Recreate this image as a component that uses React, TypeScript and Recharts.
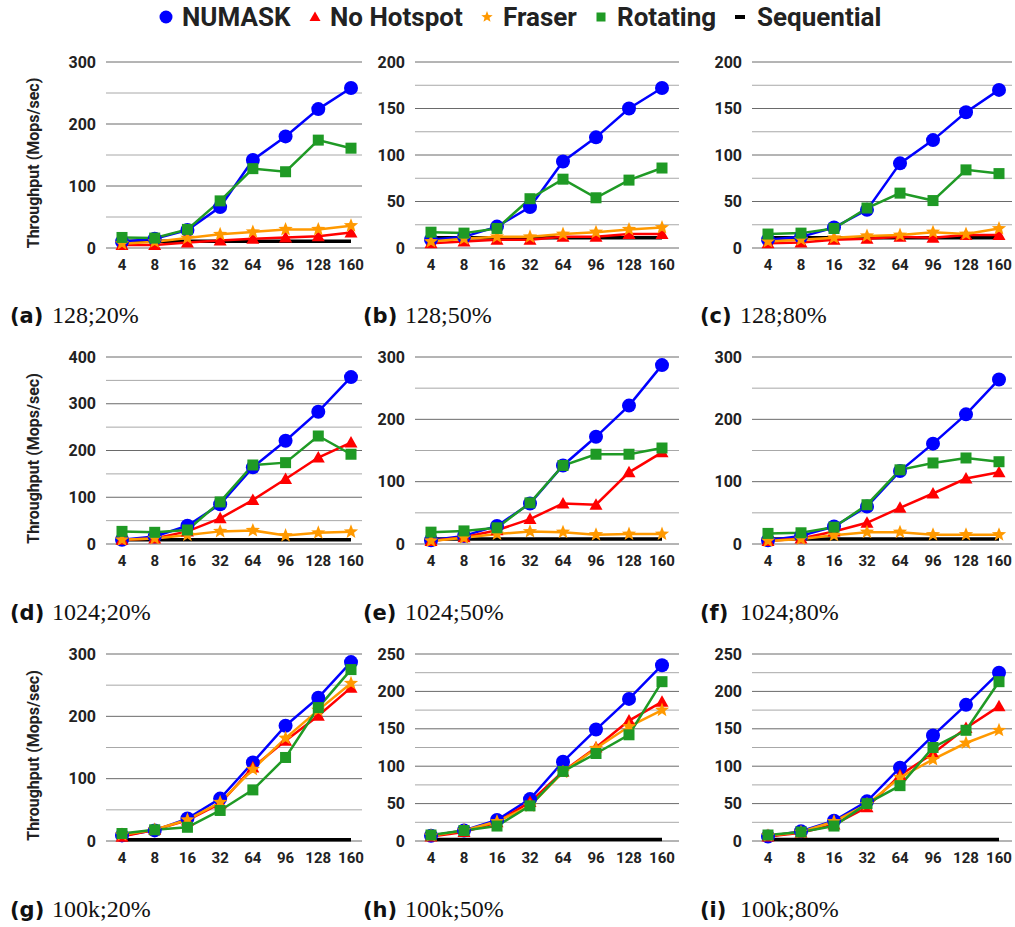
import { CartesianGrid, Line, LineChart, XAxis, YAxis } from "recharts";

const THREADS = ["4", "8", "16", "32", "64", "96", "128", "160"];

// (a) 128;20%
const NUMASK_A = [10, 15, 29, 66, 142, 180, 224, 258];
const NOHOT_A = [5, 5, 9, 12, 15, 17, 19, 25];
const FRASER_A = [7, 10, 16, 22, 26, 30, 30, 36];
const ROT_A = [17, 16, 30, 76, 128, 123, 174, 161];
const SEQ_A = [11, 11, 11, 11, 11, 11, 11, 11];

// (b) 128;50%
const NUMASK_B = [9, 12, 23, 44, 93, 119, 150, 172];
const NOHOT_B = [5, 7, 9, 9, 12, 12, 15, 15];
const FRASER_B = [7, 10, 12, 12, 15, 17, 20, 22];
const ROT_B = [17, 16, 21, 53, 74, 54, 73, 86];
const SEQ_B = [11, 11, 11, 11, 11, 11, 11, 11];

// (c) 128;80%
const NUMASK_C = [9, 12, 22, 41, 91, 116, 146, 170];
const NOHOT_C = [5, 6, 9, 10, 12, 11, 14, 14];
const FRASER_C = [7, 9, 11, 13, 14, 17, 15, 21];
const ROT_C = [15, 16, 21, 43, 59, 51, 84, 80];
const SEQ_C = [11, 11, 11, 11, 11, 11, 11, 11];

// (d) 1024;20%
const NUMASK_D = [9, 16, 39, 85, 164, 221, 283, 357];
const NOHOT_D = [9, 12, 27, 55, 94, 139, 185, 217];
const FRASER_D = [9, 12, 19, 27, 29, 18, 24, 26];
const ROT_D = [27, 25, 30, 90, 169, 174, 231, 192];
const SEQ_D = [9, 9, 9, 9, 9, 9, 9, 9];

// (e) 1024;50%
const NUMASK_E = [6, 13, 29, 65, 126, 172, 222, 287];
const NOHOT_E = [5, 11, 22, 40, 65, 63, 115, 147];
const FRASER_E = [5, 10, 16, 20, 19, 15, 16, 16];
const ROT_E = [19, 21, 26, 66, 126, 144, 144, 154];
const SEQ_E = [8, 8, 8, 8, 8, 8, 8, 8];

// (f) 1024;80%
const NUMASK_F = [6, 13, 28, 60, 117, 161, 208, 264];
const NOHOT_F = [5, 9, 20, 34, 58, 81, 105, 115];
const FRASER_F = [5, 8, 14, 19, 19, 15, 15, 15];
const ROT_F = [17, 18, 27, 63, 119, 130, 138, 132];
const SEQ_F = [8, 8, 8, 8, 8, 8, 8, 8];

// (g) 100k;20%
const NUMASK_G = [9, 17, 36, 68, 126, 185, 230, 287];
const NOHOT_G = [7, 18, 33, 60, 118, 161, 201, 246];
const FRASER_G = [10, 18, 34, 62, 115, 165, 210, 253];
const ROT_G = [12, 18, 22, 49, 82, 134, 214, 275];
const SEQ_G = [2, 2, 2, 2, 2, 2, 2, 2];

// (h) 100k;50%
const NUMASK_H = [7, 14, 28, 56, 106, 149, 190, 235];
const NOHOT_H = [6, 12, 25, 52, 93, 125, 161, 186];
const FRASER_H = [7, 14, 26, 47, 92, 124, 153, 175];
const ROT_H = [8, 14, 20, 47, 93, 117, 142, 213];
const SEQ_H = [2, 2, 2, 2, 2, 2, 2, 2];

// (i) 100k;80%
const NUMASK_I = [6, 13, 27, 53, 98, 141, 182, 225];
const NOHOT_I = [6, 11, 22, 45, 88, 117, 151, 180];
const FRASER_I = [7, 12, 26, 49, 85, 109, 131, 148];
const ROT_I = [8, 12, 20, 50, 74, 125, 148, 213];
const SEQ_I = [2, 2, 2, 2, 2, 2, 2, 2];

const TICKS_200 = [0, 25, 50, 75, 100, 125, 150, 175, 200];
const TICKS_250 = [0, 25, 50, 75, 100, 125, 150, 175, 200, 225, 250];
const TICKS_300 = [0, 50, 100, 150, 200, 250, 300];
const TICKS_400 = [0, 50, 100, 150, 200, 250, 300, 350, 400];

const BLUE = "#0000ff";
const RED = "#ff0000";
const ORANGE = "#ff9900";
const GREEN = "#1f9a25";
const FONT = "Roboto, Arial, sans-serif";

// plot right edge = left + width - right margin
const COLS = [
  { left: 0, width: 370, right: 8, yWidth: 106, pad: { left: 16, right: 11 }, capX: 10, numDx: 42 },
  { left: 362, width: 317, right: 0, yWidth: 53, pad: { left: 16, right: 17 }, capX: 363, numDx: 42 },
  { left: 679, width: 333, right: 0, yWidth: 73, pad: { left: 16, right: 13 }, capX: 700, numDx: 40 },
];

const ROWS = [
  { top: 52, plotH: 186, capBase: 323 },
  { top: 347, plotH: 187, capBase: 620 },
  { top: 644, plotH: 187, capBase: 917 },
];

function rows(n: number[], nh: number[], f: number[], r: number[], s: number[]) {
  return THREADS.map((t, i) => ({ t, numask: n[i], nohot: nh[i], fraser: f[i], rot: r[i], seq: s[i] }));
}

const PANELS = [
  { key: "a", label: "128;20%", data: rows(NUMASK_A, NOHOT_A, FRASER_A, ROT_A, SEQ_A), ticks: TICKS_300, major: 100 },
  { key: "b", label: "128;50%", data: rows(NUMASK_B, NOHOT_B, FRASER_B, ROT_B, SEQ_B), ticks: TICKS_200, major: 50 },
  { key: "c", label: "128;80%", data: rows(NUMASK_C, NOHOT_C, FRASER_C, ROT_C, SEQ_C), ticks: TICKS_200, major: 50 },
  { key: "d", label: "1024;20%", data: rows(NUMASK_D, NOHOT_D, FRASER_D, ROT_D, SEQ_D), ticks: TICKS_400, major: 100 },
  { key: "e", label: "1024;50%", data: rows(NUMASK_E, NOHOT_E, FRASER_E, ROT_E, SEQ_E), ticks: TICKS_300, major: 100 },
  { key: "f", label: "1024;80%", data: rows(NUMASK_F, NOHOT_F, FRASER_F, ROT_F, SEQ_F), ticks: TICKS_300, major: 100 },
  { key: "g", label: "100k;20%", data: rows(NUMASK_G, NOHOT_G, FRASER_G, ROT_G, SEQ_G), ticks: TICKS_300, major: 100 },
  { key: "h", label: "100k;50%", data: rows(NUMASK_H, NOHOT_H, FRASER_H, ROT_H, SEQ_H), ticks: TICKS_250, major: 50 },
  { key: "i", label: "100k;80%", data: rows(NUMASK_I, NOHOT_I, FRASER_I, ROT_I, SEQ_I), ticks: TICKS_250, major: 50 },
];

function starPath(cx: number, cy: number, ro: number, ri: number) {
  let d = "";
  for (let k = 0; k < 10; k++) {
    const r = k % 2 === 0 ? ro : ri;
    const a = -Math.PI / 2 + (k * Math.PI) / 5;
    d += (k === 0 ? "M" : "L") + (cx + r * Math.cos(a)).toFixed(2) + "," + (cy + r * Math.sin(a)).toFixed(2);
  }
  return d + "Z";
}

const circleDot = (p: any) => <circle key={p.key} cx={p.cx} cy={p.cy} r={7} fill={BLUE} />;
const triDot = (p: any) => (
  <path key={p.key} d={`M${p.cx},${p.cy - 6.5}L${p.cx - 6.5},${p.cy + 5}L${p.cx + 6.5},${p.cy + 5}Z`} fill={RED} />
);
const starDot = (p: any) => <path key={p.key} d={starPath(p.cx, p.cy, 7.5, 3.2)} fill={ORANGE} />;
const squareDot = (p: any) => <rect key={p.key} x={p.cx - 5.5} y={p.cy - 5.5} width={11} height={11} fill={GREEN} />;

function Panel({ idx }: { idx: number }) {
  const p = PANELS[idx];
  const col = COLS[idx % 3];
  const row = ROWS[Math.floor(idx / 3)];
  const height = 10 + row.plotH + 30;
  return (
    <div style={{ position: "absolute", left: col.left, top: row.top }}>
      <LineChart width={col.width} height={height} data={p.data} margin={{ top: 10, right: col.right, left: 0, bottom: 0 }}>
        <CartesianGrid
          vertical={false}
          horizontal={(g: any) => (
            <line
              key={g.key}
              x1={g.x1}
              x2={g.x2}
              y1={g.y1}
              y2={g.y2}
              stroke={g.index % 2 === 0 ? "#6a6a6a" : "#a8a8a8"}
              strokeWidth={1}
            />
          )}
        />
        <XAxis
          dataKey="t"
          height={30}
          padding={col.pad}
          axisLine={false}
          tickLine={false}
          tickSize={0}
          tickMargin={11}
          interval={0}
          tick={{ fontSize: 15, fontWeight: 700, fill: "#222", fontFamily: FONT }}
        />
        <YAxis
          width={col.yWidth}
          domain={[0, p.ticks[p.ticks.length - 1]]}
          ticks={p.ticks}
          interval={0}
          axisLine={false}
          tickLine={false}
          tickSize={0}
          tickMargin={10}
          tickFormatter={(v: number) => (v % p.major === 0 ? String(v) : "")}
          tick={{ fontSize: 16, fontWeight: 700, fill: "#222", fontFamily: FONT }}
        />
        <Line dataKey="seq" stroke="#000" strokeWidth={3.5} dot={false} isAnimationActive={false} />
        <Line dataKey="numask" stroke={BLUE} strokeWidth={2.5} dot={circleDot} isAnimationActive={false} />
        <Line dataKey="nohot" stroke={RED} strokeWidth={2.5} dot={triDot} isAnimationActive={false} />
        <Line dataKey="fraser" stroke={ORANGE} strokeWidth={2.5} dot={starDot} isAnimationActive={false} />
        <Line dataKey="rot" stroke={GREEN} strokeWidth={2.5} dot={squareDot} isAnimationActive={false} />
      </LineChart>
    </div>
  );
}

const LEGEND = [
  { name: "NUMASK", icon: "circle", color: BLUE, cx: 166, tx: 182 },
  { name: "No Hotspot", icon: "tri", color: RED, cx: 315, tx: 330 },
  { name: "Fraser", icon: "star", color: ORANGE, cx: 487, tx: 503 },
  { name: "Rotating", icon: "square", color: GREEN, cx: 601, tx: 617 },
  { name: "Sequential", icon: "dash", color: "#000", cx: 740, tx: 757 },
];

function LegendIcon({ icon, color, cx }: { icon: string; color: string; cx: number }) {
  const cy = 17;
  if (icon === "circle") return <circle cx={cx} cy={cy} r={6.5} fill={color} />;
  if (icon === "tri") return <path d={`M${cx},${cy - 5.5}L${cx - 5.5},${cy + 4}L${cx + 5.5},${cy + 4}Z`} fill={color} />;
  if (icon === "star") return <path d={starPath(cx, cy, 6, 2.6)} fill={color} />;
  if (icon === "square") return <rect x={cx - 4.5} y={cy - 4.5} width={9} height={9} fill={color} />;
  return <rect x={cx - 5} y={cy - 2} width={10} height={4} fill={color} />;
}

export default function App() {
  return (
    <div style={{ position: "absolute", left: 0, top: 0, width: 1015, height: 927, background: "#fff" }}>
      <svg width={1015} height={927} style={{ position: "absolute", left: 0, top: 0 }}>
        {LEGEND.map((l) => (
          <g key={l.name}>
            <LegendIcon icon={l.icon} color={l.color} cx={l.cx} />
            <text x={l.tx} y={26} fontFamily={FONT} fontWeight={700} fontSize={26} fill="#222">
              {l.name}
            </text>
          </g>
        ))}
        {ROWS.map((r, ri) => (
          <text
            key={"yt" + ri}
            x={0}
            y={0}
            transform={`translate(39,${r.top + 10 + r.plotH / 2 + 8}) rotate(-90)`}
            textAnchor="middle"
            fontFamily={FONT}
            fontWeight={700}
            fontSize={16}
            fill="#222"
          >
            Throughput (Mops/sec)
          </text>
        ))}
        {PANELS.map((p, i) => {
          const col = COLS[i % 3];
          const row = ROWS[Math.floor(i / 3)];
          return (
            <text key={"cap" + p.key} x={col.capX} y={row.capBase} fill="#111">
              <tspan fontFamily="'DejaVu Sans', sans-serif" fontWeight={700} fontSize={21}>
                ({p.key})
              </tspan>
              <tspan x={col.capX + col.numDx} fontFamily="'Liberation Serif', serif" fontSize={24}>
                {p.label}
              </tspan>
            </text>
          );
        })}
      </svg>
      {PANELS.map((p, i) => (
        <Panel key={p.key} idx={i} />
      ))}
    </div>
  );
}
